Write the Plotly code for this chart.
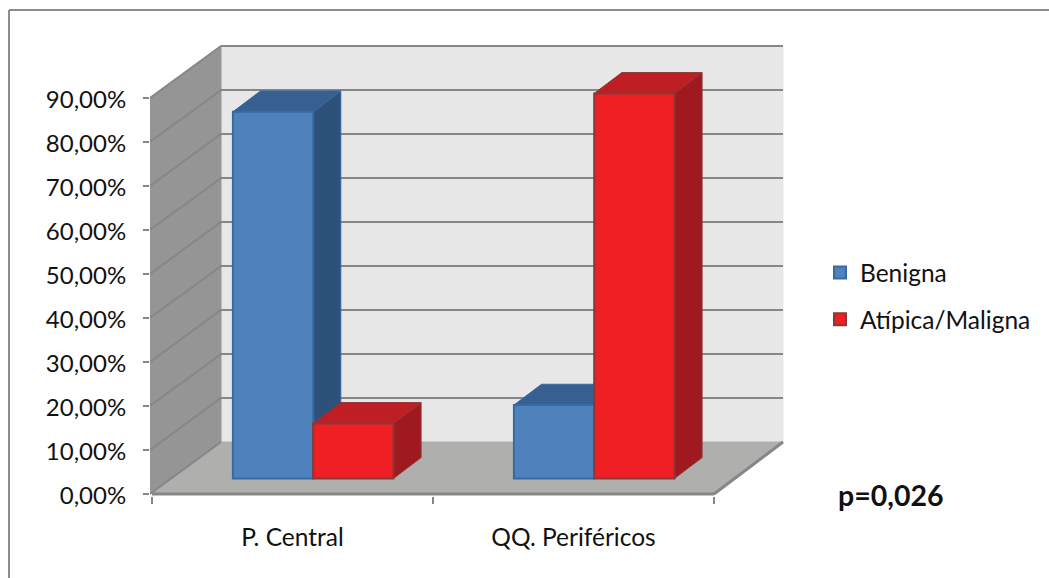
import plotly.graph_objects as go

# Chart data
categories = ["P. Central", "QQ. Periféricos"]
series_names = ["Benigna", "Atípica/Maligna"]
benigna = [83.33, 16.67]
maligna = [12.5, 87.5]
y_ticks = [0, 10, 20, 30, 40, 50, 60, 70, 80, 90]

# Colours: front, side, top, edge of each series
blue = dict(front="#4F81BD", side="#2C5279", top="#385F91", edge="#386AA0")
red = dict(front="#EE2024", side="#A0191E", top="#BE1E24", edge="#8C3836")
GRID = "#868686"
BACK_WALL = "#E7E7E7"
SIDE_WALL = "#959595"
FLOOR = "#AFAFAD"
FONT = "Lato"
TEXT = "#111111"

# Plot area in page pixels, and the scale of each axis
W, H = 1049, 578
LEFT, RIGHT, TOP, BOTTOM = 150, 790, 40, 496
PX_PER_CAT = 281.0
PX_PER_PCT = 4.4
ORIGIN_X, ORIGIN_Y = 152, 494

# Oblique projection: full chart depth expressed in axis units
DEPTH_X = 69 / PX_PER_CAT
DEPTH_Y = 52 / PX_PER_PCT
BAR_WIDTH = 1 / 3.5            # two series, gap of 150 %
DEPTH_FRONT, DEPTH_BACK = 0.3, 0.7


def proj(u, v, d=0.0):
    """Axis coordinates of a point at category u, value v, depth d."""
    return u + d * DEPTH_X, v + d * DEPTH_Y


def poly(points, fill, line=None, width=1):
    path = "M" + "L".join(f"{x:.4f},{y:.4f}" for x, y in points) + "Z"
    return dict(type="path", path=path, xref="x", yref="y", layer="below",
                fillcolor=fill, line=dict(color=line or fill, width=width))


def seg(a, b, width=2, color=GRID):
    return dict(type="line", xref="x", yref="y", layer="below",
                x0=a[0], y0=a[1], x1=b[0], y1=b[1],
                line=dict(color=color, width=width))


WALL_LEFT = (LEFT - ORIGIN_X) / PX_PER_CAT
n = len(categories)
top = y_ticks[-1]
shapes = [
    # back wall, left wall and floor
    poly([proj(0, 0, 1), proj(n, 0, 1), proj(n, top, 1), proj(0, top, 1)], BACK_WALL),
    poly([proj(WALL_LEFT, 0, 0), proj(0, 0, 1), proj(0, top, 1), proj(WALL_LEFT, top, 0)], SIDE_WALL),
    poly([proj(0, 0, 0), proj(n, 0, 0), proj(n, 0, 1), proj(0, 0, 1)], FLOOR),
]
for t in y_ticks[1:]:
    shapes.append(seg(proj(0, t, 1), proj(n, t, 1)))
    shapes.append(seg(proj(WALL_LEFT, t, 0), proj(0, t, 1)))
shapes.append(seg(proj(0, 0, 0), proj(n, 0, 0), width=3))
shapes.append(seg(proj(n, 0, 0), proj(n, 0, 1), width=3))
shapes.append(seg(proj(WALL_LEFT, 0, 0), proj(0, 0, 1), width=2))

# Side and top faces of each bar, drawn under the front faces
bar_base = DEPTH_FRONT * DEPTH_Y
traces = []
for s, (name, values, col) in enumerate(zip(series_names, [benigna, maligna], [blue, red])):
    xs = []
    for i, v in enumerate(values):
        left = i + 0.75 * BAR_WIDTH + s * BAR_WIDTH
        right = left + BAR_WIDTH
        shapes.append(poly([proj(right, 0, DEPTH_FRONT), proj(right, 0, DEPTH_BACK),
                            proj(right, v, DEPTH_BACK), proj(right, v, DEPTH_FRONT)],
                           col["side"], col["edge"]))
        shapes.append(poly([proj(left, v, DEPTH_FRONT), proj(right, v, DEPTH_FRONT),
                            proj(right, v, DEPTH_BACK), proj(left, v, DEPTH_BACK)],
                           col["top"], col["edge"]))
        xs.append(proj(left + BAR_WIDTH / 2, 0, DEPTH_FRONT)[0])
    traces.append(go.Bar(
        x=xs, y=values, base=bar_base, width=BAR_WIDTH, name=name,
        legendgroup=name, hoverinfo="skip",
        marker=dict(color=col["front"], line=dict(color=col["edge"], width=2)),
    ))

# Frame lines along the top and left of the page, in paper coordinates
plot_w = RIGHT - LEFT
plot_h = BOTTOM - TOP
frame_x = (9 - LEFT) / plot_w
frame_y = (BOTTOM - 10) / plot_h
frame_style = dict(type="line", xref="paper", yref="paper", layer="below",
                   line=dict(color="#8C8C8C", width=2))
shapes.insert(0, dict(frame_style, x0=frame_x, x1=(W - LEFT) / plot_w, y0=frame_y, y1=frame_y))
shapes.insert(0, dict(frame_style, x0=frame_x, x1=frame_x, y0=(BOTTOM - H) / plot_h, y1=frame_y))

fig = go.Figure(traces)
fig.update_layout(
    width=W, height=H,
    margin=dict(l=LEFT, r=W - RIGHT, t=TOP, b=H - BOTTOM, autoexpand=False),
    paper_bgcolor="white", plot_bgcolor="rgba(0,0,0,0)",
    barmode="overlay",
    font=dict(family=FONT, size=24.5, color=TEXT),
    shapes=shapes,
    legend=dict(
        x=(820 - LEFT) / plot_w, xanchor="left",
        y=(BOTTOM - 296) / plot_h, yanchor="middle",
        traceorder="grouped", tracegroupgap=12,
        bgcolor="rgba(0,0,0,0)", font=dict(family=FONT, size=24.5, color=TEXT),
    ),
    annotations=[dict(
        text="<b>p=0,026</b>", xref="paper", yref="paper", showarrow=False,
        x=(836 - LEFT) / plot_w, xanchor="left",
        y=(BOTTOM - 495) / plot_h, yanchor="middle",
        font=dict(family=FONT, size=28.5, color=TEXT),
    )],
    xaxis=dict(
        range=[(LEFT - ORIGIN_X) / PX_PER_CAT, (RIGHT - ORIGIN_X) / PX_PER_CAT],
        tickmode="array", tickvals=[i + 0.5 for i in range(n)], ticktext=categories,
        ticks="", ticklabelstandoff=24, showgrid=False, zeroline=False, showline=False,
        tickfont=dict(family=FONT, size=24.5, color=TEXT),
        minor=dict(tickmode="array", tickvals=list(range(n + 1)), ticks="outside",
                   ticklen=7, tickwidth=2, tickcolor=GRID, showgrid=False),
    ),
    yaxis=dict(
        range=[(ORIGIN_Y - BOTTOM) / PX_PER_PCT, (ORIGIN_Y - TOP) / PX_PER_PCT],
        tickmode="array", tickvals=y_ticks,
        ticktext=[f"{t:.2f}".replace(".", ",") + "%" for t in y_ticks],
        ticks="outside", ticklen=6, tickwidth=2, tickcolor=GRID, ticklabelstandoff=12,
        ticklabelshift=2, showgrid=False, zeroline=False, showline=False,
        tickfont=dict(family=FONT, size=24, color=TEXT),
    ),
)

fig.write_html("out.html")
